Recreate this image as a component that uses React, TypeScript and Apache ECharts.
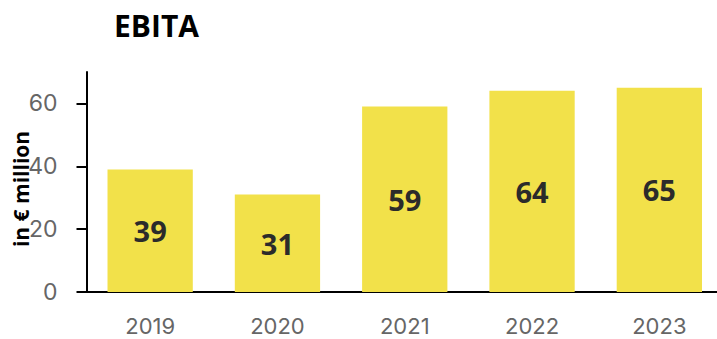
import React, { useEffect, useRef } from "react";
import * as echarts from "echarts";

const years = ["2019", "2020", "2021", "2022", "2023"];
const ebita = [39, 31, 59, 64, 65];
const yTicks = { min: 0, max: 70, interval: 20 };

const FONT = "'Open Sans', 'DejaVu Sans', sans-serif";
const TICK_FONT = "Inter, 'Open Sans', sans-serif";

export default function App() {
  const ref = useRef<HTMLDivElement>(null);

  useEffect(() => {
    if (!ref.current) return;
    const chart = echarts.init(ref.current, null, { renderer: "svg" });
    chart.setOption({
      animation: false,
      backgroundColor: "#ffffff",
      title: {
        text: "EBITA",
        left: 109,
        top: 5,
        textStyle: { fontFamily: FONT, fontSize: 30, fontWeight: "bold", color: "#000000" },
      },
      // the plot runs a few pixels past the right edge of the page
      grid: { left: 86.5, right: 0, top: 72, bottom: 47 },
      xAxis: {
        type: "category",
        data: years,
        axisLine: { show: true, lineStyle: { color: "#000000", width: 2 } },
        axisTick: { show: false },
        axisLabel: {
          margin: 25,
          fontFamily: TICK_FONT,
          fontSize: 22,
          lineHeight: 18,
          color: "#666666",
        },
      },
      yAxis: {
        type: "value",
        min: yTicks.min,
        max: yTicks.max,
        interval: yTicks.interval,
        splitLine: { show: false },
        axisLine: { show: true, lineStyle: { color: "#000000", width: 2 } },
        axisTick: { show: true, length: 10, lineStyle: { color: "#000000", width: 2 } },
        axisLabel: {
          margin: 29,
          fontFamily: TICK_FONT,
          fontSize: 23,
          color: "#666666",
          showMaxLabel: false,
        },
      },
      graphic: [
        {
          type: "text",
          x: 21,
          y: 189,
          rotation: Math.PI / 2,
          style: {
            text: "in € million",
            fontFamily: FONT,
            fontSize: 21,
            fontWeight: "bold",
            fill: "#000000",
            textAlign: "center",
            textVerticalAlign: "middle",
          },
        },
      ],
      series: [
        {
          type: "bar",
          data: ebita,
          barWidth: "67%",
          itemStyle: { color: "#f2e14a" },
          label: {
            show: true,
            position: "inside",
            fontFamily: FONT,
            fontSize: 29,
            fontWeight: "bold",
            color: "#2b2b2b",
          },
        },
      ],
    });
    return () => chart.dispose();
  }, []);

  return (
    <div
      ref={ref}
      style={{ position: "fixed", left: 0, top: 0, width: 723, height: 339 }}
    />
  );
}
